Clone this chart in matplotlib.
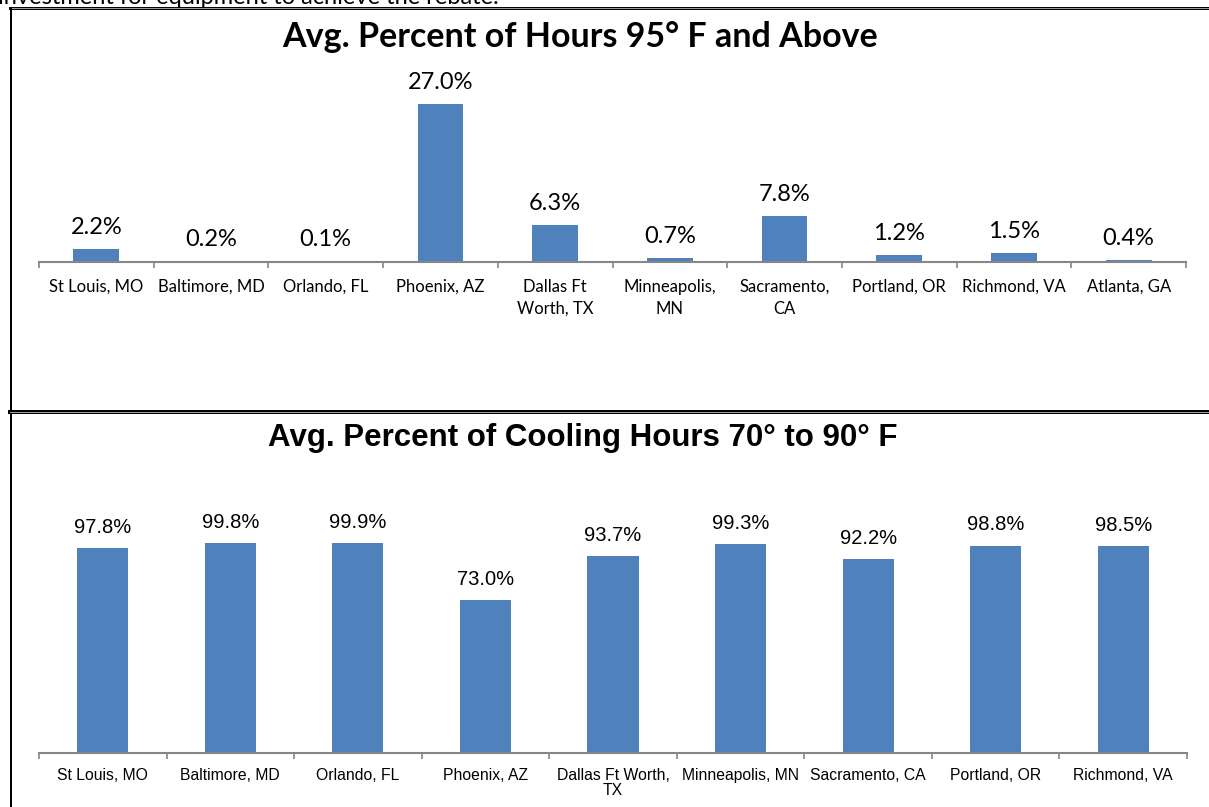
import numpy as np
import matplotlib
matplotlib.use("Agg")
import matplotlib.pyplot as plt
from matplotlib.lines import Line2D

# ---------------------------------------------------------------------------
# data
# ---------------------------------------------------------------------------
hot_cities = ["St Louis, MO", "Baltimore, MD", "Orlando, FL", "Phoenix, AZ",
              "Dallas Ft\nWorth, TX", "Minneapolis,\nMN", "Sacramento,\nCA",
              "Portland, OR", "Richmond, VA", "Atlanta, GA"]
hot_pct = [2.2, 0.2, 0.1, 27.0, 6.3, 0.7, 7.8, 1.2, 1.5, 0.4]

cool_cities = ["St Louis, MO", "Baltimore, MD", "Orlando, FL", "Phoenix, AZ",
               "Dallas Ft Worth,\nTX", "Minneapolis, MN", "Sacramento, CA",
               "Portland, OR", "Richmond, VA"]
cool_pct = [97.8, 99.8, 99.9, 73.0, 93.7, 99.3, 92.2, 98.8, 98.5]

BAR = "#4F81BD"
AXIS = "#868686"
W, H = 1209, 807


def fx(px):
    return px / W


def fy(py):
    return 1 - py / H


def draw_bars(ax, cats, vals, ymax, font, lab_size, tick_size, pad_pts,
              tick_pad, spacing):
    x = np.arange(len(cats))
    ax.bar(x, vals, width=0.4, color=BAR, zorder=2)
    ax.set_xlim(-0.5, len(cats) - 0.5)
    ax.set_ylim(0, ymax)
    for s in ["top", "right", "left"]:
        ax.spines[s].set_visible(False)
    ax.spines["bottom"].set_color(AXIS)
    ax.spines["bottom"].set_linewidth(1.5)
    ax.set_yticks([])
    ax.set_xticks(x)
    ax.set_xticklabels(cats, family=font, fontsize=tick_size, linespacing=spacing)
    ax.tick_params(axis="x", which="major", length=0, pad=tick_pad)
    ax.set_xticks(np.arange(len(cats) + 1) - 0.5, minor=True)
    ax.tick_params(axis="x", which="minor", length=4, width=1.2, color=AXIS)
    for xi, v in zip(x, vals):
        ax.annotate(f"{v:.1f}%", (xi, v), xytext=(0, pad_pts),
                    textcoords="offset points", ha="center", va="bottom",
                    family=font, fontsize=lab_size)


fig = plt.figure(figsize=(W / 100, H / 100), dpi=100)

# page text cut off at the top
fig.text(fx(-2), fy(4), "investment for equipment to achieve the rebate.",
         family="Lato", fontsize=17, va="baseline", ha="left")

# top chart
ax1 = fig.add_axes([fx(39), fy(262), fx(1147), (262 - 86.5) / H])
draw_bars(ax1, hot_cities, hot_pct, 30, "Lato", 17, 12, 8, 12, 1.45)
fig.text(fx(580), fy(37), "Avg. Percent of Hours 95° F and Above",
         family="Lato", fontweight="bold", fontsize=24.5, ha="center", va="center")

# bottom chart
ax2 = fig.add_axes([fx(39), fy(753), fx(1148), 252 / H])
draw_bars(ax2, cool_cities, cool_pct, 120, "Liberation Sans", 14.5, 11.3, 8,
          11, 1.0)
fig.text(fx(583), fy(438), "Avg. Percent of Cooling Hours 70° to 90° F",
         family="Liberation Sans", fontweight="bold", fontsize=22.5,
         ha="center", va="center")

# frame lines around the two charts
frame = [
    ([fx(10), 1.0], [fy(8), fy(8)], 3.0, "black"),
    ([fx(10), 1.0], [fy(7.5), fy(7.5)], 1.0, "#9a9a9a"),
    ([fx(11), fx(11)], [fy(8), 0.0], 2.0, "black"),
    ([fx(10), 1.0], [fy(412), fy(412)], 4.0, "black"),
    ([fx(10), 1.0], [fy(412), fy(412)], 1.0, "#9a9a9a"),
]
for xs, ys, lw, c in frame:
    fig.add_artist(Line2D(xs, ys, lw=lw * 72 / 100, color=c,
                          transform=fig.transFigure))

fig.savefig("out.png", dpi=100)
